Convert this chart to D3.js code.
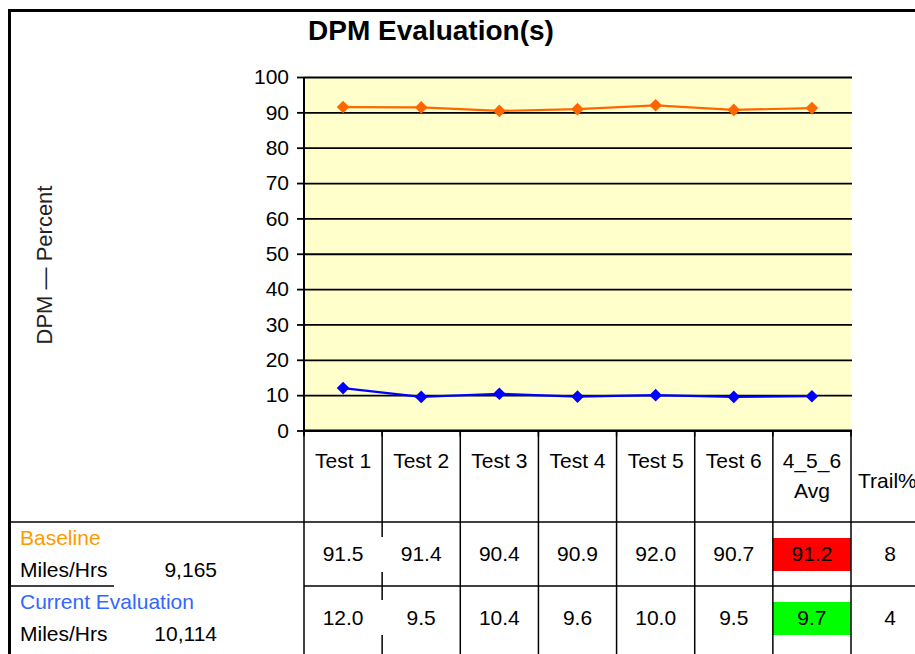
<!DOCTYPE html>
<html>
<head>
<meta charset="utf-8">
<script src="https://cdn.jsdelivr.net/npm/d3@7"></script>
<style>
  body { margin: 0; background: #fff; }
  text { font-family: "Liberation Sans", Arial, sans-serif; }
</style>
</head>
<body>
<div id="chart"></div>
<script>
"use strict";

// data
var categories = ["Test 1", "Test 2", "Test 3", "Test 4", "Test 5", "Test 6", "4_5_6\nAvg"];
var baseline = [91.5, 91.4, 90.4, 90.9, 92.0, 90.7, 91.2];
var current = [12.0, 9.5, 10.4, 9.6, 10.0, 9.5, 9.7];
var seriesNames = ["Baseline", "Current Evaluation"];
var milesHrs = ["9,165", "10,114"];
var trailPct = [8, 4];
var yTicks = [0, 10, 20, 30, 40, 50, 60, 70, 80, 90, 100];

var W = 915, H = 654;
var fs = "21px";

var svg = d3.select("#chart")
    .append("svg")
    .attr("width", W)
    .attr("height", H);

// scales
var x = d3.scaleBand()
    .domain(categories)
    .range([304, 851]);

var y = d3.scaleLinear()
    .domain([0, 100])
    .range([430.5, 77]);

var x0 = x.range()[0], x1 = x.range()[1];
var bw = x.bandwidth();

// outer frame (top + left)
svg.append("path")
    .attr("d", `M9.5,${H} V10.5 H${W}`)
    .attr("fill", "none")
    .attr("stroke", "#000")
    .attr("stroke-width", 3);

// title
svg.append("text")
    .attr("x", 431)
    .attr("y", 40)
    .attr("text-anchor", "middle")
    .style("font-size", "28px")
    .style("font-weight", "bold")
    .text("DPM Evaluation(s)");

// y axis title
svg.append("text")
    .attr("transform", "translate(52,265) rotate(-90)")
    .attr("text-anchor", "middle")
    .style("font-size", "22px")
    .attr("fill", "#222")
    .text("DPM \u2014 Percent");

// plot background
svg.append("rect")
    .attr("x", x0)
    .attr("y", y(100))
    .attr("width", x1 - x0)
    .attr("height", y(0) - y(100))
    .attr("fill", "#FFFFCC");

// gridlines
svg.append("g")
    .attr("transform", `translate(${x0},0)`)
    .call(d3.axisRight(y).tickValues(yTicks).tickSize(x1 - x0 + 1).tickFormat(""))
    .call(g => g.select(".domain").remove())
    .call(g => g.selectAll("line").attr("stroke", "#000").attr("stroke-width", 1.8));

// y axis with labels
svg.append("g")
    .attr("transform", `translate(${x0},0)`)
    .call(d3.axisLeft(y).tickValues(yTicks).tickSize(7).tickPadding(8))
    .call(g => g.select(".domain").remove())
    .call(g => g.selectAll("line").attr("stroke", "#000").attr("stroke-width", 1.8))
    .call(g => g.selectAll("text")
        .style("font-size", fs)
        .attr("fill", "#000")
        .attr("font-family", "Liberation Sans, Arial, sans-serif"));

// axis lines
svg.append("line")
    .attr("x1", x0).attr("x2", x0)
    .attr("y1", y(100)).attr("y2", y(0) + 5)
    .attr("stroke", "#000").attr("stroke-width", 2);

svg.append("line")
    .attr("x1", x0).attr("x2", x1 + 1)
    .attr("y1", y(0)).attr("y2", y(0))
    .attr("stroke", "#000").attr("stroke-width", 2);

// x ticks at band edges
var edges = categories.map(c => x(c)).concat([x1]);
svg.append("g")
    .selectAll("line")
    .data(edges)
    .join("line")
    .attr("x1", d => d).attr("x2", d => d)
    .attr("y1", y(0)).attr("y2", y(0) + 6)
    .attr("stroke", "#000").attr("stroke-width", 1.5);

// series lines + markers
var series = [
    { name: seriesNames[0], values: baseline, color: "#FF6600" },
    { name: seriesNames[1], values: current, color: "#0000FF" }
];

var line = d3.line()
    .x((d, i) => x(categories[i]) + bw / 2)
    .y(d => y(d));

series.forEach(s => {
    svg.append("path")
        .datum(s.values)
        .attr("fill", "none")
        .attr("stroke", s.color)
        .attr("stroke-width", 2.2)
        .attr("d", line);

    svg.append("g")
        .selectAll("path")
        .data(s.values)
        .join("path")
        .attr("d", d3.symbol(d3.symbolSquare, 80))
        .attr("transform", (d, i) => `translate(${x(categories[i]) + bw / 2},${y(d)}) rotate(45)`)
        .attr("fill", s.color);
});

// ---- data table ----
var rowTop = [522, 586];

// highlight cells for the avg column
var avgCat = categories[categories.length - 1];
var avgFill = ["#FF0000", "#00FF00"];
svg.append("g")
    .selectAll("rect")
    .data(avgFill)
    .join("rect")
    .attr("x", x(avgCat))
    .attr("y", (d, i) => rowTop[i] + 16)
    .attr("width", bw)
    .attr("height", 33)
    .attr("fill", d => d);

// vertical cell lines (the Test1/Test2 line is broken by the value boxes)
var grid = svg.append("g").attr("stroke", "#000").attr("stroke-width", 1.5);
edges.forEach((ex, i) => {
    var segs = i === 1
        ? [[y(0), 537], [572, 600], [635, H]]
        : [[y(0), H]];
    segs.forEach(s => {
        grid.append("line")
            .attr("x1", ex).attr("x2", ex)
            .attr("y1", s[0]).attr("y2", s[1]);
    });
});

// horizontal row lines
grid.append("line").attr("x1", 9).attr("x2", W).attr("y1", rowTop[0]).attr("y2", rowTop[0]);
grid.append("line").attr("x1", 9).attr("x2", 114).attr("y1", rowTop[1]).attr("y2", rowTop[1]);
grid.append("line").attr("x1", x0).attr("x2", W).attr("y1", rowTop[1]).attr("y2", rowTop[1]);

// header labels
var header = svg.append("g")
    .style("font-size", fs)
    .attr("text-anchor", "middle");

categories.forEach(c => {
    var parts = c.split("\n");
    parts.forEach((p, j) => {
        header.append("text")
            .attr("x", x(c) + bw / 2)
            .attr("y", 468 + j * 30)
            .text(p);
    });
});

header.append("text")
    .attr("x", x1 + 7)
    .attr("y", 488)
    .attr("text-anchor", "start")
    .text("Trail%");

// row labels
var labelColors = ["#FF9900", "#3366FF"];
var rowLabels = svg.append("g").style("font-size", fs);

seriesNames.forEach((n, i) => {
    rowLabels.append("text")
        .attr("x", 20)
        .attr("y", rowTop[i] + 23)
        .attr("fill", labelColors[i])
        .text(n);
    rowLabels.append("text")
        .attr("x", 20)
        .attr("y", rowTop[i] + 55)
        .text("Miles/Hrs");
    rowLabels.append("text")
        .attr("x", 217)
        .attr("y", rowTop[i] + 55)
        .attr("text-anchor", "end")
        .text(milesHrs[i]);
});

// row values
series.forEach((s, i) => {
    svg.append("g")
        .style("font-size", fs)
        .attr("text-anchor", "middle")
        .selectAll("text")
        .data(s.values)
        .join("text")
        .attr("x", (d, j) => x(categories[j]) + bw / 2)
        .attr("y", rowTop[i] + 39)
        .text(d => d.toFixed(1));

    svg.append("text")
        .attr("x", x1 + bw / 2)
        .attr("y", rowTop[i] + 39)
        .attr("text-anchor", "middle")
        .style("font-size", fs)
        .text(trailPct[i]);
});
</script>
</body>
</html>
